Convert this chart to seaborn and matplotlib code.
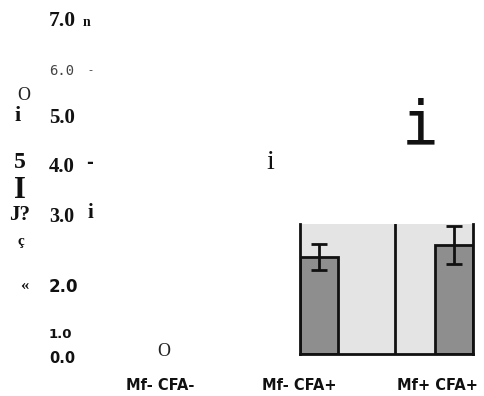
import matplotlib
matplotlib.use("Agg")
import matplotlib.pyplot as plt
import pandas as pd
import seaborn as sns

# data
categories = ["Mf- CFA-", "Mf- CFA+", "Mf+ CFA+"]
bar_groups = ["Mf- CFA+", "Mf+ CFA+"]
bar_values = [2.02, 2.27]
bar_errors = [0.27, 0.40]
ytick_labels = ["0.0", "1.0", "2.0", "3.0", "4.0", "5.0", "6.0", "7.0"]
ytick_pos = [0.0, 0.5, 1.49, 2.95, 3.99, 5.0, 5.96, 7.0]

W, H = 485, 396
sns.set_style("white")
fig = plt.figure(figsize=(W / 100, H / 100), dpi=100)


def fx(px):
    return px / W


def fy(py):
    return 1 - py / H


# main (invisible) axes carrying the tick labels
ax = fig.add_axes([fx(96), fy(357), fx(485) - fx(96), fy(19) - fy(357)])
ax.set_xlim(-0.46, 2.34)
ax.set_ylim(0, 7)
ax.patch.set_alpha(0)
for s in ax.spines.values():
    s.set_visible(False)
ax.set_xticks(range(len(categories)), categories)
ax.set_yticks(ytick_pos, ytick_labels)
ax.tick_params(axis="y", length=0, pad=34)
ax.tick_params(axis="x", length=0, pad=15)
for lab in ax.get_xticklabels():
    lab.set_fontfamily("DejaVu Sans")
    lab.set_fontweight("bold")
    lab.set_fontsize(10.5)
    lab.set_color("#111111")

ystyles = [
    ("DejaVu Sans", "bold", 10.5, "#111111"),
    ("DejaVu Sans", "bold", 9.5, "#111111"),
    ("DejaVu Sans", "bold", 12, "#111111"),
    ("Liberation Serif", "bold", 14.5, "#111111"),
    ("Liberation Serif", "bold", 15, "#111111"),
    ("Liberation Serif", "bold", 15, "#111111"),
    ("DejaVu Sans Mono", "normal", 10, "#444444"),
    ("Liberation Serif", "bold", 15.5, "#111111"),
]
for lab, (fam, wt, sz, col) in zip(ax.get_yticklabels(), ystyles):
    lab.set_fontfamily(fam)
    lab.set_fontweight(wt)
    lab.set_fontsize(sz)
    lab.set_color(col)
    lab.set_horizontalalignment("left")

# scanned panel with the two measured bars
axp = fig.add_axes([fx(300), fy(354), fx(473) - fx(300), fy(224) - fy(354)])
axp.set_facecolor("#e4e4e4")
df = pd.DataFrame({"group": bar_groups, "value": bar_values})
sns.barplot(data=df, x="group", y="value", ax=axp, color="#8e8e8e",
            width=0.286, edgecolor="#111111", linewidth=2, errorbar=None,
            saturation=1)
axp.errorbar(range(len(bar_groups)), bar_values, yerr=bar_errors, fmt="none",
             ecolor="#111111", elinewidth=2, capsize=6, capthick=2,
             clip_on=False)
axp.axvline(0.565, color="#111111", lw=2)
axp.set_xlim(-0.143, 1.143)
axp.set_ylim(0, 2.71)
axp.set_xticks([])
axp.set_yticks([])
axp.set_xlabel("")
axp.set_ylabel("")
for side in ["left", "right", "bottom"]:
    axp.spines[side].set_color("#111111")
    axp.spines[side].set_linewidth(2)
axp.spines["top"].set_visible(False)

# stray glyphs from the scan
stray = [
    ("O", 24, 96, "Liberation Serif", "normal", 13, "#222222"),
    ("i", 18, 116, "Liberation Serif", "bold", 16, "#111111"),
    ("5", 20, 163, "Liberation Serif", "bold", 17, "#111111"),
    ("I", 20, 190, "Liberation Serif", "bold", 22, "#111111"),
    ("J?", 20, 215, "Liberation Serif", "bold", 15, "#111111"),
    ("ç", 21, 241, "Liberation Serif", "bold", 11, "#111111"),
    ("«", 24, 286, "Liberation Serif", "bold", 12, "#111111"),
    ("n", 87, 22, "Liberation Serif", "bold", 10, "#111111"),
    ("-", 90, 70, "DejaVu Sans", "normal", 8, "#444444"),
    ("-", 90, 163, "DejaVu Sans", "bold", 12, "#111111"),
    ("i", 90, 213, "Liberation Serif", "bold", 15, "#111111"),
    ("O", 164, 352, "Liberation Serif", "normal", 13, "#222222"),
    ("i", 270, 163, "Liberation Serif", "normal", 20, "#111111"),
    ("i", 420, 127, "DejaVu Sans Mono", "normal", 44, "#111111"),
]
for ch, x, y, fam, wt, sz, col in stray:
    fig.text(fx(x), fy(y), ch, ha="center", va="center", family=fam,
             weight=wt, size=sz, color=col)

fig.savefig("out.png", dpi=100)
